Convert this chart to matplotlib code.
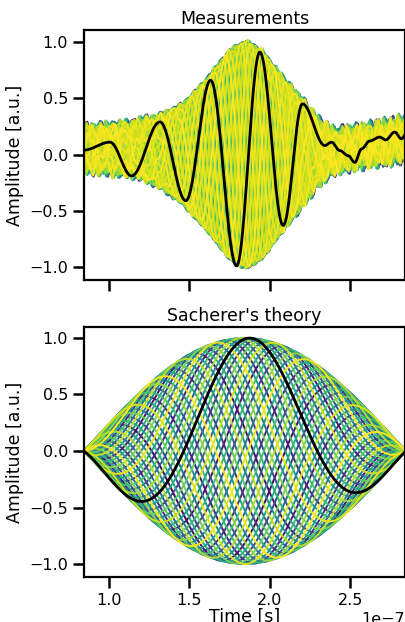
import numpy as np
import matplotlib.pyplot as plt

# ---- data (time in units of 1e-7 s) ----
# measured black trace: key points (extrema and tail wiggles)
meas_t = [0.845, 1.006, 1.141, 1.317, 1.478, 1.632, 1.793, 1.938, 2.083, 2.203,
          2.342, 2.383, 2.435, 2.487, 2.528, 2.57, 2.62, 2.683, 2.72, 2.776, 2.818, 2.845]
meas_y = [0.04, 0.11, -0.19, 0.29, -0.41, 0.66, -0.99, 0.91, -0.63, 0.45,
          0.08, 0.11, 0.035, -0.01, -0.07, 0.05, 0.12, 0.155, 0.13, 0.2, 0.14, 0.18]

# envelope and baseline of the measured bunch of turns
env_t = [0.845, 1.0, 1.15, 1.3, 1.45, 1.6, 1.75, 1.85, 1.95, 2.1, 2.2, 2.3, 2.4, 2.6, 2.845]
env_a = [0.14, 0.17, 0.2, 0.28, 0.42, 0.65, 0.92, 1.0, 0.92, 0.63, 0.45, 0.25, 0.12, 0.1, 0.1]
base_t = [0.845, 1.2, 1.5, 2.0, 2.4, 2.845]
base_y = [0.05, 0.05, 0.0, 0.0, 0.03, 0.14]
noise_a = [0.08, 0.06, 0.025, 0.025, 0.09, 0.11]

# Sacherer mode parameters
bunch_start, bunch_length = 0.845, 2.0     # 1e-7 s
half_wave = 0.83                           # 1e-7 s between zero crossings
black_peak = 1.88                          # 1e-7 s
n_turns = 50
tune = 0.38
n_turns_meas = 150
tune_meas = 0.23


def smooth_through(tp, yp, t):
    tp = np.asarray(tp)
    yp = np.asarray(yp)
    i = np.clip(np.searchsorted(tp, t) - 1, 0, len(tp) - 2)
    frac = (t - tp[i]) / (tp[i + 1] - tp[i])
    w = (1 - np.cos(np.pi * frac)) / 2
    return yp[i] + (yp[i + 1] - yp[i]) * w


def main():
    t = np.linspace(0.845, 2.845, 800)
    cmap = plt.get_cmap("viridis")

    fig = plt.figure(figsize=(4.06, 6.22), dpi=100)
    ax1 = fig.add_axes([0.2069, 0.5498, 0.7906, 0.402])
    ax2 = fig.add_axes([0.2069, 0.0723, 0.7906, 0.402], sharex=ax1)

    # measurements: oscillation phase anchored on the black trace extrema
    ext_t = np.array(meas_t[2:10])
    ext_ph = np.pi * np.arange(1, 9)
    ph_t = np.concatenate([[0.845], ext_t, [2.845]])
    ph = np.concatenate([[np.pi - (ext_t[0] - 0.845) * np.pi / 0.17], ext_ph,
                         [ext_ph[-1] + (2.845 - ext_t[-1]) * np.pi / 0.13]])
    phase = np.interp(t, ph_t, ph)
    env = np.interp(t, env_t, env_a)
    base = np.interp(t, base_t, base_y)
    namp = np.interp(t, base_t, noise_a)
    for n in range(n_turns_meas):
        phi = 2 * np.pi * tune_meas * n
        ripple = namp * (0.6 * np.sin(2 * np.pi * t / 0.09 + 1.3 * n)
                         + 0.4 * np.sin(2 * np.pi * t / 0.053 + 2.1 * n)
                         + 0.3 * np.sin(2 * np.pi * t / 0.031 + 0.7 * n))
        y = base + env * np.cos(phase - phi) + ripple
        ax1.plot(t * 1e-7, y, color=cmap(n / (n_turns_meas - 1)), lw=1.3)
    ax1.plot(t * 1e-7, smooth_through(meas_t, meas_y, t), color="k", lw=2)

    # theory
    envelope = np.sin(np.pi * (t - bunch_start) / bunch_length)
    omega = np.pi / half_wave
    for n in range(n_turns):
        phi = 2 * np.pi * tune * n
        y = envelope * np.cos(omega * (t - black_peak) - phi)
        ax2.plot(t * 1e-7, y, color=cmap(n / (n_turns - 1)), lw=1.4)
    ax2.plot(t * 1e-7, envelope * np.cos(omega * (t - black_peak)), color="k", lw=2)

    for ax, title in [(ax1, "Measurements"), (ax2, "Sacherer's theory")]:
        ax.set_title(title, fontsize=12.5, pad=4)
        ax.set_ylabel("Amplitude [a.u.]", fontsize=12.5)
        ax.set_yticks([-1.0, -0.5, 0.0, 0.5, 1.0])
        ax.tick_params(labelsize=11.5, length=8, width=1.8)
        for s in ax.spines.values():
            s.set_linewidth(1.6)
    ax1.set_ylim(-1.115, 1.107)
    ax2.set_ylim(-1.115, 1.097)
    ax2.set_xlim(0.845e-7, 2.84e-7)
    ax2.set_xticks([1.0e-7, 1.5e-7, 2.0e-7, 2.5e-7])
    ax2.set_xlabel("Time [s]", fontsize=12.5, labelpad=0)
    ax2.xaxis.get_offset_text().set_fontsize(11.5)
    plt.setp(ax1.get_xticklabels(), visible=False)
    ax1.xaxis.get_offset_text().set_visible(False)

    fig.savefig("out.png", dpi=100)


if __name__ == "__main__":
    main()
